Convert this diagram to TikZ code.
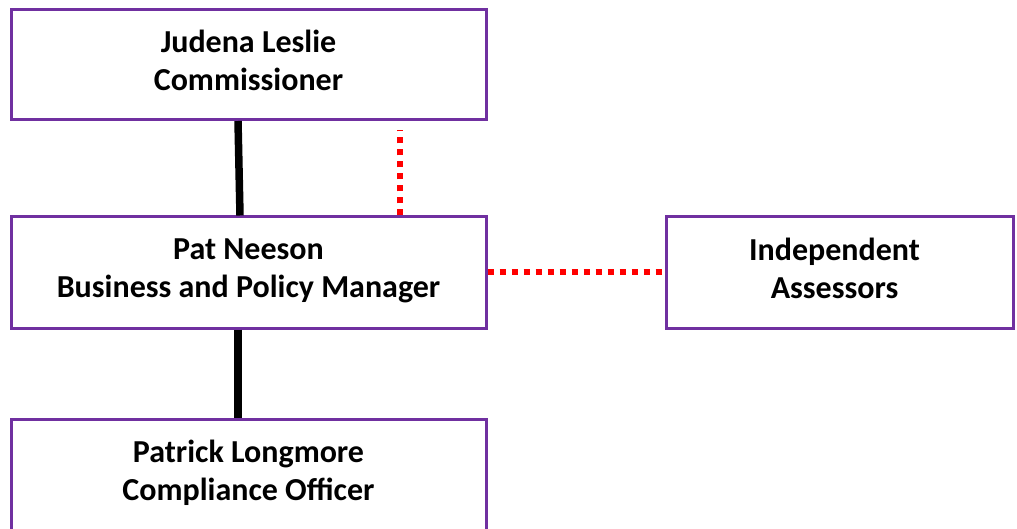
\documentclass[tikz,border=0pt]{standalone}
\usepackage{fontspec}
\setmainfont{Carlito}
\definecolor{boxpurple}{HTML}{7030A0}
\begin{document}
\begin{tikzpicture}[x=1pt,y=-1pt,
  box/.style={draw=boxpurple, line width=3pt, fill=white, minimum width=475pt, minimum height=110pt, inner sep=0pt, anchor=center},
  txt/.style={font=\fontsize{32}{38}\selectfont\bfseries, anchor=base, inner sep=0pt},
  solidlink/.style={line width=7.5pt, black},
  dotlink/.style={line width=6pt, red, dash pattern=on 6pt off 6pt}]
\clip (0,0) rectangle (1017,529);
\useasboundingbox (0,0) rectangle (1017,529);
\node[box] (b1) at (248.5,64.5) {};
\node[box, minimum height=111pt] (b2) at (248.5,272.5) {};
\node[box, minimum height=111pt] (b3) at (248.5,474.5) {};
\node[box, minimum width=347pt, minimum height=111pt] (b4) at (839.5,272.5) {};
\draw[solidlink] ([xshift=-10.5pt]b1.south) -- ([xshift=-8.5pt]b2.north);
\draw[solidlink] ([xshift=-10.5pt]b2.south) -- ([xshift=-10.5pt]b3.north);
\coordinate (rtop) at (400,130);
\draw[dotlink] ([xshift=151.5pt]b2.north) -- (rtop);
\draw[dotlink] (b2.east) -- (b4.west);
\node[txt] (t1a) at (248.5,52.5) {Judena Leslie};
\node[txt] (t1b) at (248.5,90.5) {Commissioner};
\node[txt] (t2a) at (248.5,260) {Pat Neeson};
\node[txt] (t2b) at (248.5,298) {Business and Policy Manager};
\node[txt] (t3a) at (248.5,462.5) {Patrick Longmore};
\node[txt] (t3b) at (248.5,500.5) {Compliance Officer};
\node[txt] (t4a) at (834.5,260.5) {Independent};
\node[txt] (t4b) at (834.5,298.5) {Assessors};
\end{tikzpicture}
\end{document}
